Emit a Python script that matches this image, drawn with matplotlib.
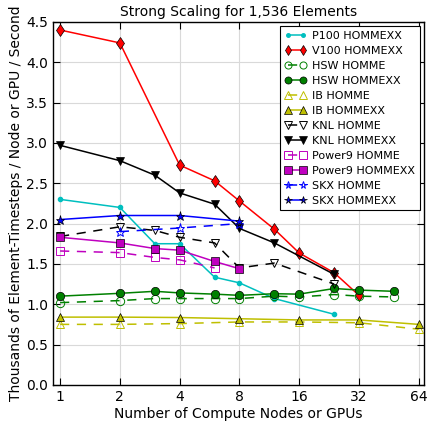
import matplotlib
matplotlib.use('Agg')
import matplotlib.pyplot as plt
from matplotlib.ticker import FixedLocator, NullLocator

# values (thousands of element-timesteps / node or GPU / s)
p100_x = [1, 2, 3, 4, 6, 8, 12, 24]
p100_hommexx = [2.30, 2.20, 1.75, 1.75, 1.335, 1.265, 1.07, 0.875]

v100_x = [1, 2, 4, 6, 8, 12, 16, 24, 32]
v100_hommexx = [4.40, 4.24, 2.725, 2.53, 2.28, 1.93, 1.635, 1.39, 1.11]

hsw_x = [1, 2, 3, 4, 6, 8, 12, 16, 24, 32, 48]
hsw_homme = [1.02, 1.045, 1.07, 1.07, 1.07, 1.07, 1.10, 1.09, 1.12, 1.10, 1.09]
hsw_hommexx = [1.10, 1.135, 1.16, 1.14, 1.125, 1.11, 1.13, 1.125, 1.195, 1.175, 1.16]

ib_x = [1, 2, 4, 8, 16, 32, 64]
ib_homme = [0.75, 0.75, 0.76, 0.78, 0.78, 0.77, 0.69]
ib_hommexx = [0.84, 0.84, 0.835, 0.82, 0.805, 0.805, 0.75]

knl_x = [1, 2, 3, 4, 6, 8, 12, 24]
knl_homme = [1.84, 1.96, 1.915, 1.83, 1.76, 1.45, 1.51, 1.25]
knl_hommexx = [2.97, 2.78, 2.60, 2.38, 2.24, 1.94, 1.76, 1.37]

p9_homme_x = [1, 2, 3, 4, 6]
p9_homme = [1.66, 1.64, 1.58, 1.55, 1.45]
p9_hommexx_x = [1, 2, 3, 4, 6, 8]
p9_hommexx = [1.83, 1.76, 1.69, 1.67, 1.53, 1.44]

skx_homme_x = [2, 4, 8]
skx_homme = [1.90, 1.945, 2.0]
skx_hommexx_x = [1, 2, 4, 8]
skx_hommexx = [2.05, 2.10, 2.10, 2.03]

xticks = [1, 2, 4, 8, 16, 32, 64]
yticks = [0.0, 0.5, 1.0, 1.5, 2.0, 2.5, 3.0, 3.5, 4.0, 4.5]

plt.rcParams['font.size'] = 10
plt.rcParams['lines.dashed_pattern'] = [6, 5]

fig = plt.figure(figsize=(4.30, 4.22), dpi=100)
ax = fig.add_axes([0.123, 0.088, 0.863, 0.86])

cy = (0, 0.75, 0.75)
gr = (0, 0.5, 0)
yl = (0.75, 0.75, 0)
mg = (0.75, 0, 0.75)

def filled(x, y, c, m, ms, label):
    ax.plot(x, y, '-', color=c, marker=m, ms=ms, mfc=c, mec='k', mew=0.5,
            lw=1.1, label=label)

def hollow(x, y, c, m, ms, label):
    ax.plot(x, y, '--', color=c, marker=m, ms=ms, mfc='none', mec=c, mew=0.7,
            lw=1.1, label=label)

ax.plot(p100_x, p100_hommexx, '-', color=cy, marker='o', ms=3, mfc=cy, mec=cy,
        lw=1.1, label='P100 HOMMEXX')
filled(v100_x, v100_hommexx, 'r', 'd', 6.5, 'V100 HOMMEXX')
hollow(hsw_x, hsw_homme, gr, 'o', 6, 'HSW HOMME')
filled(hsw_x, hsw_hommexx, gr, 'o', 6, 'HSW HOMMEXX')
hollow(ib_x, ib_homme, yl, '^', 6, 'IB HOMME')
filled(ib_x, ib_hommexx, yl, '^', 6, 'IB HOMMEXX')
hollow(knl_x, knl_homme, 'k', 'v', 6, 'KNL HOMME')
filled(knl_x, knl_hommexx, 'k', 'v', 6, 'KNL HOMMEXX')
hollow(p9_homme_x, p9_homme, mg, 's', 6, 'Power9 HOMME')
filled(p9_hommexx_x, p9_hommexx, mg, 's', 6, 'Power9 HOMMEXX')
hollow(skx_homme_x, skx_homme, 'b', '*', 6.5, 'SKX HOMME')
filled(skx_hommexx_x, skx_hommexx, 'b', '*', 6.5, 'SKX HOMMEXX')

ax.set_xscale('log', base=2)
ax.set_xlim(0.92, 68)
ax.set_ylim(0, 4.5)
ax.xaxis.set_major_locator(FixedLocator(xticks))
ax.xaxis.set_minor_locator(NullLocator())
ax.set_xticklabels([str(t) for t in xticks])
ax.set_yticks(yticks)
ax.set_yticklabels(['%.1f' % t for t in yticks])
ax.tick_params(direction='in', top=True, right=True, length=5, width=0.8)
ax.grid(True, color='#d9d9d9', lw=0.8, ls='-')
ax.set_axisbelow(True)
for s in ax.spines.values():
    s.set_linewidth(1.0)

ax.set_title('Strong Scaling for 1,536 Elements', fontsize=10, pad=4)
ax.set_xlabel('Number of Compute Nodes or GPUs', fontsize=10, labelpad=2)
ax.set_ylabel('Thousands of Element-Timesteps / Node or GPU / Second', fontsize=10,
              labelpad=2)

leg = ax.legend(loc='upper right', fontsize=8, numpoints=2, handlelength=2.0,
                labelspacing=0.45, borderpad=0.4, handletextpad=0.5,
                markerscale=0.85, fancybox=False, framealpha=1,
                borderaxespad=0.4)
leg.get_frame().set_edgecolor('k')
leg.get_frame().set_linewidth(0.8)

plt.savefig('out.png', dpi=100)
